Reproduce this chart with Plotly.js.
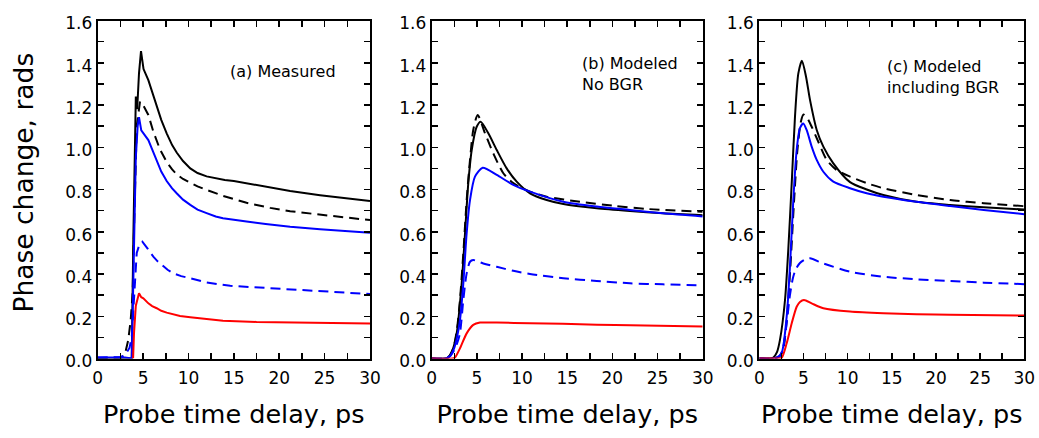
<!DOCTYPE html>
<html>
<head>
<meta charset="utf-8">
<script src="https://cdn.plot.ly/plotly-3.0.1.min.js"></script>
<style>html,body{margin:0;padding:0;background:#fff;}#chart{width:1039px;height:438px;}</style>
</head>
<body>
<div id="chart"></div>
<script>
// ---------- Data ----------
// Panel (a) Measured
const a_blackSolid_t = [0, 3.0, 3.75, 3.92, 4.2, 4.35, 4.55, 4.77, 4.9, 5.05, 5.58, 6.0, 6.5, 7.0, 7.6, 8.2, 8.7, 9.4, 10.2, 11.0, 12.0, 13.0, 14.0, 15.0, 16.4, 18.5, 21.2, 24.5, 27.8, 30];
const a_blackSolid_v = [0, 0.0, 0.0, 0.55, 1.24, 1.18, 1.35, 1.455, 1.42, 1.37, 1.318, 1.26, 1.192, 1.13, 1.066, 1.01, 0.975, 0.935, 0.9, 0.878, 0.862, 0.853, 0.845, 0.84, 0.83, 0.812, 0.793, 0.773, 0.757, 0.745];
const a_blackDash_t = [0, 2.6, 3.0, 3.37, 3.63, 3.85, 4.05, 4.3, 4.66, 5.0, 5.58, 6.13, 6.86, 7.6, 8.2, 8.7, 9.4, 10.2, 11.0, 12.0, 13.8, 16.4, 19.0, 21.2, 24.5, 27.8, 30];
const a_blackDash_v = [0, 0.005, 0.02, 0.088, 0.18, 0.31, 0.7, 1.1, 1.216, 1.2, 1.153, 1.074, 0.99, 0.93, 0.895, 0.872, 0.85, 0.832, 0.815, 0.798, 0.77, 0.737, 0.713, 0.697, 0.68, 0.664, 0.655];
const a_blueSolid_t = [0, 3.0, 3.75, 3.95, 4.2, 4.4, 4.55, 4.8, 5.03, 5.58, 6.0, 6.5, 7.0, 7.6, 8.2, 8.7, 9.4, 10.2, 11.0, 12.0, 13.0, 13.8, 15.0, 16.4, 18.5, 21.2, 24.5, 27.8, 30];
const a_blueSolid_v = [0.005, 0.005, 0.0, 0.5, 0.95, 1.1, 1.142, 1.08, 1.066, 1.034, 0.99, 0.94, 0.885, 0.84, 0.805, 0.782, 0.752, 0.727, 0.705, 0.688, 0.672, 0.664, 0.656, 0.648, 0.637, 0.624, 0.612, 0.6, 0.595];
const a_blueDash_t = [0, 2.5, 3.0, 3.5, 3.75, 4.0, 4.3, 4.6, 4.92, 5.5, 6.13, 6.6, 7.05, 7.7, 8.33, 9.2, 10.17, 12.0, 14.6, 17.5, 21.2, 24.5, 27.8, 30];
const a_blueDash_v = [0.005, 0.007, 0.015, 0.05, 0.1, 0.3, 0.5, 0.54, 0.553, 0.52, 0.482, 0.46, 0.443, 0.42, 0.403, 0.39, 0.38, 0.36, 0.344, 0.336, 0.327, 0.318, 0.311, 0.305];
const a_red_t = [3.9, 4.0, 4.2, 4.4, 4.55, 4.8, 5.03, 5.58, 6.0, 6.5, 7.0, 7.6, 8.3, 9.07, 10.2, 11.3, 13.8, 17.5, 21.2, 27.8, 30];
const a_red_v = [0, 0.12, 0.25, 0.29, 0.309, 0.29, 0.285, 0.261, 0.248, 0.238, 0.226, 0.217, 0.208, 0.201, 0.195, 0.19, 0.179, 0.173, 0.17, 0.167, 0.166];

// Panel (b) Modeled, no BGR
const b_blackSolid_t = [0, 1.5, 1.84, 2.3, 2.77, 3.32, 3.69, 4.05, 4.43, 4.98, 5.42, 6.27, 7.2, 8.3, 9.41, 10.88, 12.73, 14.57, 18.27, 21.95, 25.6, 30];
const b_blackSolid_v = [0, 0, 0.005, 0.04, 0.12, 0.356, 0.593, 0.83, 0.987, 1.097, 1.121, 1.066, 0.987, 0.9, 0.837, 0.782, 0.75, 0.731, 0.711, 0.698, 0.687, 0.678];
const b_blackDash_t = [0, 1.5, 1.9, 2.4, 2.8, 3.13, 3.5, 3.87, 4.24, 4.6, 5.09, 5.9, 6.82, 7.93, 9.03, 10.88, 12.73, 16.4, 20.1, 23.8, 30];
const b_blackDash_v = [0, 0, 0.01, 0.05, 0.14, 0.277, 0.498, 0.75, 0.94, 1.082, 1.153, 1.066, 0.971, 0.877, 0.83, 0.79, 0.766, 0.742, 0.723, 0.708, 0.695];
const b_blueSolid_t = [0, 1.5, 2.0, 2.5, 2.8, 3.13, 3.5, 3.87, 4.24, 4.79, 5.64, 7.2, 9.03, 10.88, 14.57, 18.27, 21.95, 25.6, 30];
const b_blueSolid_v = [0, 0, 0.01, 0.05, 0.1, 0.182, 0.356, 0.593, 0.75, 0.861, 0.903, 0.869, 0.822, 0.79, 0.742, 0.719, 0.703, 0.687, 0.672];
const b_blueDash_t = [0, 1.5, 2.0, 2.5, 2.8, 3.13, 3.5, 3.87, 4.24, 4.6, 5.71, 7.2, 9.03, 10.88, 14.57, 18.27, 21.95, 25.6, 30];
const b_blueDash_v = [0, 0, 0.01, 0.04, 0.07, 0.12, 0.277, 0.403, 0.458, 0.466, 0.45, 0.434, 0.415, 0.4, 0.38, 0.367, 0.356, 0.351, 0.346];
const b_red_t = [0, 2.3, 2.58, 3.13, 3.87, 4.6, 5.35, 7.2, 10.88, 14.5, 18.3, 22.0, 30];
const b_red_v = [0, 0, 0.005, 0.048, 0.119, 0.159, 0.17, 0.17, 0.167, 0.164, 0.16, 0.157, 0.152];

// Panel (c) Modeled including BGR
const c_blackSolid_t = [0, 1.2, 1.59, 2.0, 2.34, 2.91, 3.28, 3.67, 4.04, 4.42, 4.83, 5.29, 5.74, 6.5, 7.25, 8.38, 10.27, 12.16, 14.04, 17.8, 21.6, 25.4, 30];
const c_blackSolid_v = [0, 0, 0.005, 0.03, 0.088, 0.277, 0.514, 0.83, 1.145, 1.35, 1.41, 1.334, 1.224, 1.082, 1.003, 0.924, 0.835, 0.8, 0.774, 0.742, 0.727, 0.716, 0.705];
const c_blackDash_t = [0, 1.5, 2.0, 2.4, 2.7, 3.1, 3.5, 3.9, 4.3, 4.7, 5.0, 5.4, 5.93, 6.68, 7.63, 8.76, 10.27, 12.16, 14.04, 17.8, 21.6, 25.4, 30];
const c_blackDash_v = [0, 0, 0.005, 0.015, 0.04, 0.18, 0.42, 0.72, 0.98, 1.12, 1.155, 1.14, 1.097, 1.026, 0.94, 0.892, 0.861, 0.83, 0.806, 0.774, 0.75, 0.735, 0.721];
const c_blueSolid_t = [0, 1.5, 2.0, 2.53, 3.1, 3.47, 3.85, 4.23, 4.6, 4.98, 5.36, 5.93, 6.5, 7.25, 8.38, 10.27, 12.16, 14.04, 17.8, 21.6, 25.4, 30];
const c_blueSolid_v = [0, 0, 0.005, 0.026, 0.198, 0.435, 0.75, 0.987, 1.09, 1.113, 1.082, 1.003, 0.94, 0.884, 0.837, 0.806, 0.782, 0.766, 0.742, 0.722, 0.703, 0.683];
const c_blueDash_t = [0, 1.8, 2.3, 2.72, 3.1, 3.47, 3.8, 4.1, 4.6, 5.2, 5.74, 7.25, 10.27, 14.04, 17.8, 21.6, 25.4, 30];
const c_blueDash_v = [0, 0, 0.01, 0.056, 0.167, 0.3, 0.38, 0.42, 0.452, 0.469, 0.474, 0.45, 0.411, 0.387, 0.375, 0.367, 0.359, 0.352];
const c_red_t = [0, 2.0, 2.53, 3.1, 3.67, 4.23, 4.6, 5.06, 5.93, 7.25, 10.27, 14.04, 17.8, 21.6, 30];
const c_red_v = [0, 0, 0.003, 0.072, 0.167, 0.245, 0.268, 0.277, 0.261, 0.238, 0.222, 0.214, 0.21, 0.207, 0.203];

// Tick labels
const xTickVals = [0, 2.5, 5, 7.5, 10, 12.5, 15, 17.5, 20, 22.5, 25, 27.5, 30];
const xTickText = ['0', '', '5', '', '10', '', '15', '', '20', '', '25', '', '30'];
const yTickVals = [0, 0.1, 0.2, 0.3, 0.4, 0.5, 0.6, 0.7, 0.8, 0.9, 1.0, 1.1, 1.2, 1.3, 1.4, 1.5, 1.6];
const yTickText = ['0.0', '', '0.2', '', '0.4', '', '0.6', '', '0.8', '', '1.0', '', '1.2', '', '1.4', '', '1.6'];

// Text
const panelLabels = ['(a) Measured', '(b) Modeled<br>No BGR', '(c) Modeled<br>including BGR'];
const xTitle = 'Probe time delay, ps';
const yTitle = 'Phase change, rads';

// ---------- Figure ----------
const W = 1039, H = 438;
const FONT = 'DejaVu Sans, Liberation Sans, Arial, sans-serif';
const DASH = '10px,6px';
const px = x => x / W;
const py = y => 1 - y / H;

function line(t, v, color, dash, ax, smooth) {
  return {
    x: t, y: v, type: 'scatter', mode: 'lines',
    xaxis: 'x' + ax, yaxis: 'y' + ax,
    line: {color: color, width: 2, dash: dash || 'solid', shape: smooth ? 'spline' : 'linear', smoothing: 0.7},
    hoverinfo: 'skip', showlegend: false
  };
}

const data = [
  line(a_blackDash_t, a_blackDash_v, '#000000', DASH, '', false),
  line(a_blackSolid_t, a_blackSolid_v, '#000000', 'solid', '', false),
  line(a_blueDash_t, a_blueDash_v, '#0000ff', DASH, '', false),
  line(a_blueSolid_t, a_blueSolid_v, '#0000ff', 'solid', '', false),
  line(a_red_t, a_red_v, '#ff0000', 'solid', '', false),

  line(b_blackDash_t, b_blackDash_v, '#000000', DASH, '2', true),
  line(b_blackSolid_t, b_blackSolid_v, '#000000', 'solid', '2', true),
  line(b_blueDash_t, b_blueDash_v, '#0000ff', DASH, '2', true),
  line(b_blueSolid_t, b_blueSolid_v, '#0000ff', 'solid', '2', true),
  line(b_red_t, b_red_v, '#ff0000', 'solid', '2', true),

  line(c_blackDash_t, c_blackDash_v, '#000000', DASH, '3', true),
  line(c_blackSolid_t, c_blackSolid_v, '#000000', 'solid', '3', true),
  line(c_blueDash_t, c_blueDash_v, '#0000ff', DASH, '3', true),
  line(c_blueSolid_t, c_blueSolid_v, '#0000ff', 'solid', '3', true),
  line(c_red_t, c_red_v, '#ff0000', 'solid', '3', true)
];

function xax(domain, anchor) {
  return {
    domain: domain, anchor: anchor, range: [0, 30], fixedrange: true,
    tickmode: 'array', tickvals: xTickVals, ticktext: xTickText,
    ticks: 'inside', ticklen: 6, tickwidth: 1.5, tickcolor: '#000',
    showline: true, linewidth: 2, linecolor: '#000', mirror: 'ticks',
    showgrid: false, zeroline: false,
    tickfont: {family: FONT, size: 17, color: '#000'},
    ticklabelstandoff: 3,
    title: {text: xTitle, font: {family: FONT, size: 25.5, color: '#000'}, standoff: 18},
    automargin: false
  };
}
function yax(anchor) {
  return {
    domain: [py(358.5), py(20.5)], anchor: anchor, range: [0, 1.6], fixedrange: true,
    tickmode: 'array', tickvals: yTickVals, ticktext: yTickText,
    ticks: 'inside', ticklen: 6, tickwidth: 1.5, tickcolor: '#000',
    showline: true, linewidth: 2, linecolor: '#000', mirror: 'ticks',
    showgrid: false, zeroline: false,
    tickfont: {family: FONT, size: 17, color: '#000'},
    ticklabelshift: 3, automargin: false
  };
}

const layout = {
  width: W, height: H,
  margin: {l: 0, r: 0, t: 0, b: 0, pad: 0},
  paper_bgcolor: '#ffffff', plot_bgcolor: '#ffffff',
  font: {family: FONT, color: '#000'},
  showlegend: false,
  xaxis: xax([px(97.7), px(370)], 'y'),
  yaxis: yax('x'),
  xaxis2: xax([px(431.7), px(702.7)], 'y2'),
  yaxis2: yax('x2'),
  xaxis3: xax([px(759.3), px(1024.3)], 'y3'),
  yaxis3: yax('x3'),
  annotations: [
    {text: panelLabels[0], xref: 'paper', yref: 'paper', x: px(283), y: py(71), xanchor: 'center', yanchor: 'middle', showarrow: false, align: 'left', font: {family: FONT, size: 16, color: '#000'}},
    {text: panelLabels[1], xref: 'paper', yref: 'paper', x: px(580), y: py(74), xanchor: 'left', yanchor: 'middle', showarrow: false, align: 'left', font: {family: FONT, size: 16, color: '#000'}},
    {text: panelLabels[2], xref: 'paper', yref: 'paper', x: px(885), y: py(77), xanchor: 'left', yanchor: 'middle', showarrow: false, align: 'left', font: {family: FONT, size: 16, color: '#000'}},
    {text: yTitle, xref: 'paper', yref: 'paper', x: px(22.5), y: py(183), xanchor: 'center', yanchor: 'middle', textangle: -90, showarrow: false, font: {family: FONT, size: 26.5, color: '#000'}}
  ]
};

Plotly.newPlot('chart', data, layout, {displayModeBar: false, staticPlot: true});
</script>
</body>
</html>
